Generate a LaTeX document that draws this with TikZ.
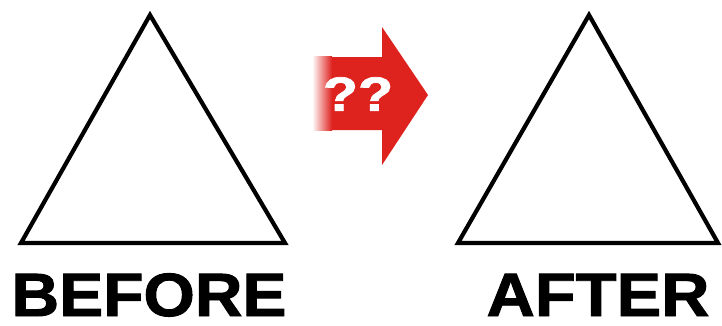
\documentclass[tikz,border=0pt]{standalone}
\usepackage{fontspec}
\setmainfont{Liberation Sans}
\newfontfamily\heavyfont[FakeBold=1.5]{Liberation Sans Bold}
\definecolor{arrowred}{RGB}{222,34,30}
\begin{document}
\begin{tikzpicture}[x=1pt,y=-1pt,
  tri/.style={draw=black,line width=4.2pt,line join=miter,fill=white},
  label/.style={font=\heavyfont\fontsize{44}{44}\selectfont,inner sep=0pt,anchor=base}]
\useasboundingbox (0,0) rectangle (722,325);
\fill[white] (0,0) rectangle (722,325);
% triangles
\coordinate (bA) at (150,15);
\coordinate (bL) at (21,243);
\coordinate (bR) at (285,243);
\draw[tri] (bA) -- (bL) -- (bR) -- cycle;
\coordinate (aA) at (589,15);
\coordinate (aL) at (458,243);
\coordinate (aR) at (718,243);
\draw[tri] (aA) -- (aL) -- (aR) -- cycle;
% arrow
\fill[arrowred] (313,57) -- (382,57) -- (382,27) -- (428,95) -- (382,165) -- (382,130) -- (313,130) -- cycle;
\shade[left color=white,right color=arrowred,draw=none] (312,56.5) rectangle (332,130.5);
\node[font=\heavyfont\fontsize{48}{48}\selectfont,text=white,inner sep=0pt] (qq) at (358,94) {\scalebox{1.2}[1]{??}};
% labels
\node[label] (before) at (149,316) {\scalebox{1.5}[1.39]{BEFORE}};
\node[label] (after) at (598,316) {\scalebox{1.52}[1.39]{AFTER}};
\end{tikzpicture}
\end{document}
